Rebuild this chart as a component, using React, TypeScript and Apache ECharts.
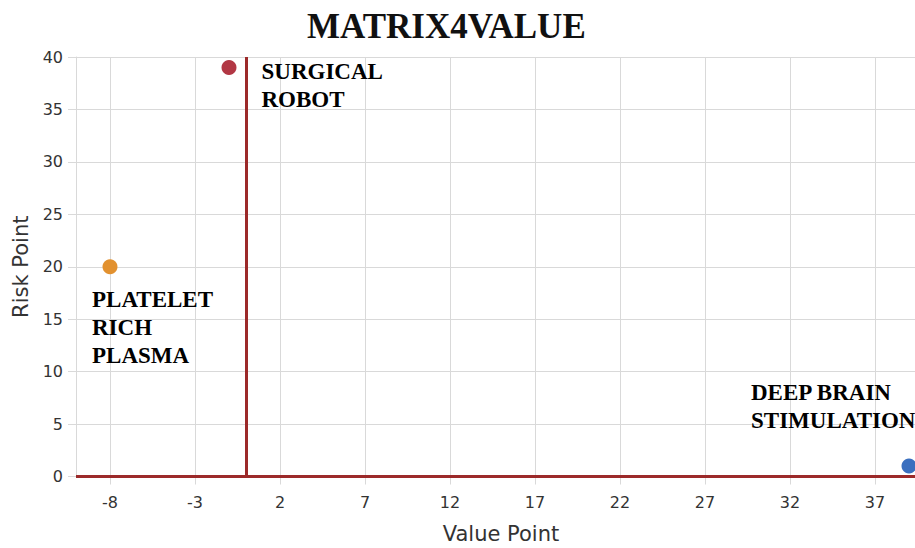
import React, { useEffect, useRef } from "react";
import * as echarts from "echarts";

const titleText = "MATRIX4VALUE";
const technologies = ["SURGICAL\nROBOT", "PLATELET\nRICH\nPLASMA", "DEEP BRAIN\nSTIMULATION"];
const valuePoints = [-1, -8, 39];
const riskPoints = [39, 20, 1];
const pointColors = ["#b23744", "#e2912f", "#3a6fbf"];
const xTickValues = [-8, -3, 2, 7, 12, 17, 22, 27, 32, 37];
const labelOffsets: [number, number][] = [
  [40, -2.5],
  [-10.5, 26.5],
  [-150.5, -80.5],
];

export default function App() {
  const ref = useRef<HTMLDivElement>(null);
  useEffect(() => {
    if (!ref.current) return;
    const chart = echarts.init(ref.current, null, { renderer: "svg" });
    const gridColor = "#d9d9d9";
    const textColor = "#333333";
    const sans = "DejaVu Sans";
    const serif = "Liberation Serif";
    chart.setOption({
      animation: false,
      backgroundColor: "#ffffff",
      title: {
        text: titleText,
        left: 307,
        top: 9,
        padding: 0,
        textStyle: { fontFamily: serif, fontWeight: "bold", fontSize: 35, color: "#111" },
      },
      grid: {
        left: 76,
        top: 57,
        right: -11,
        bottom: 71.5,
        containLabel: false,
        outerBoundsMode: "none",
      },
      xAxis: {
        type: "value",
        min: -10,
        max: 40,
        name: "Value Point",
        nameLocation: "middle",
        nameGap: 47,
        nameTextStyle: { fontFamily: sans, fontSize: 21, color: textColor },
        axisLine: { show: true, onZero: false, lineStyle: { color: gridColor, width: 1 } },
        axisTick: { show: true, length: 8, customValues: xTickValues, lineStyle: { color: gridColor } },
        axisLabel: { customValues: xTickValues, margin: 18, fontFamily: sans, fontSize: 16, color: textColor },
        splitLine: { show: true, lineStyle: { color: gridColor, width: 1 } },
      },
      yAxis: {
        type: "value",
        min: 0,
        max: 40,
        interval: 5,
        name: "Risk Point",
        nameLocation: "middle",
        nameGap: 45,
        nameTextStyle: { fontFamily: sans, fontSize: 21, color: textColor },
        axisLine: { show: true, onZero: false, lineStyle: { color: gridColor, width: 1 } },
        axisTick: { show: true, length: 8, lineStyle: { color: gridColor } },
        axisLabel: { margin: 13, fontFamily: sans, fontSize: 16, color: textColor },
        splitLine: { show: true, lineStyle: { color: gridColor, width: 1 } },
      },
      series: [
        {
          type: "scatter",
          symbolSize: 15,
          z: 5,
          itemStyle: { opacity: 1 },
          data: technologies.map((name, i) => ({
            name,
            value: [valuePoints[i], riskPoints[i]],
            itemStyle: { color: pointColors[i], opacity: 1 },
            label: {
              show: true,
              formatter: name,
              position: labelOffsets[i],
              align: "left",
              verticalAlign: "top",
              fontFamily: serif,
              fontWeight: "bold",
              fontSize: 23,
              lineHeight: 28,
              color: "#000",
              opacity: 1,
            },
          })),
          markLine: {
            silent: true,
            symbol: "none",
            label: { show: false },
            lineStyle: { color: "#9c2a2a", width: 3, type: "solid", opacity: 1 },
            data: [{ yAxis: 0 }, { xAxis: 0 }],
          },
        },
      ],
    });
    return () => chart.dispose();
  }, []);
  return (
    <div
      ref={ref}
      style={{ position: "fixed", left: 0, top: 0, width: 915, height: 548 }}
    />
  );
}
